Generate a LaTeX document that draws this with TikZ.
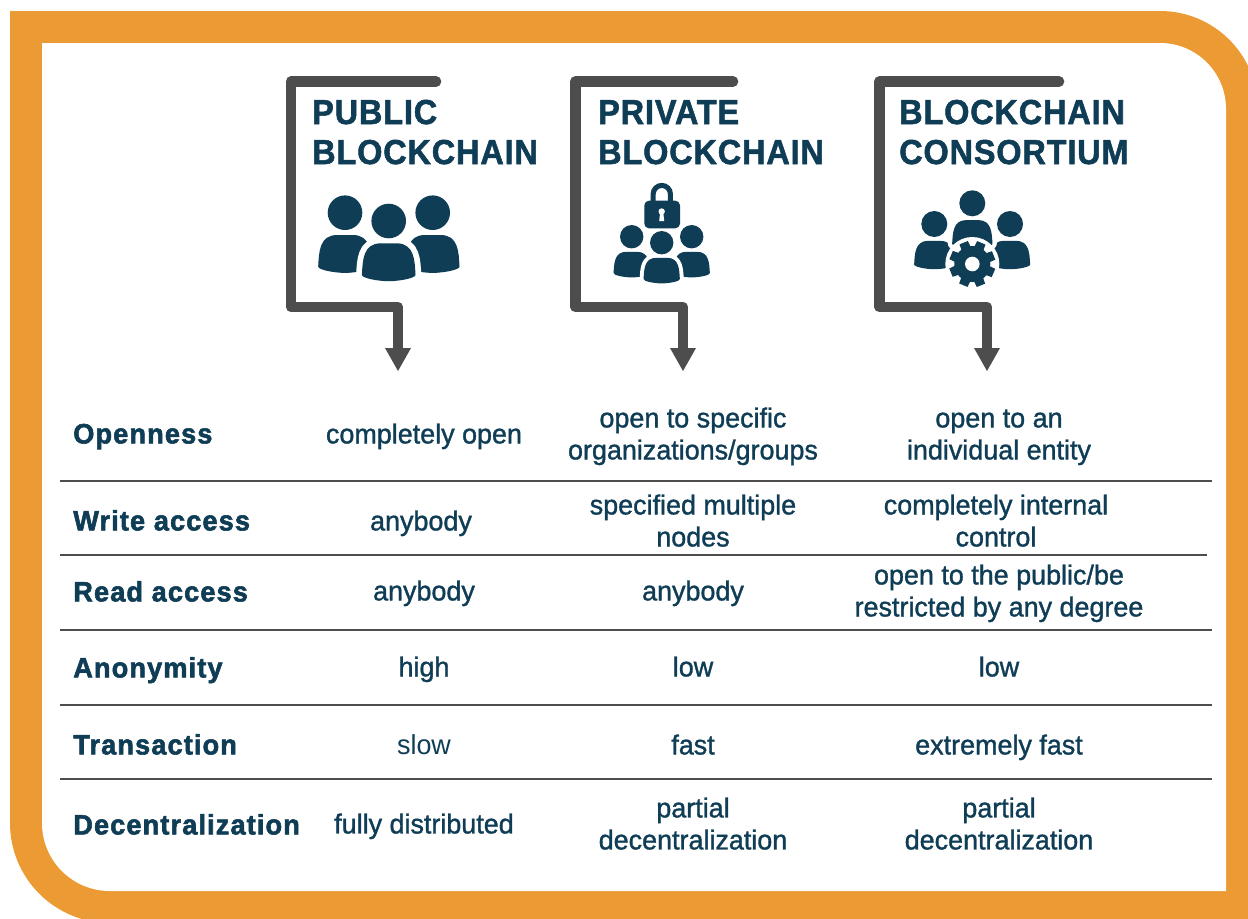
\documentclass[tikz,border=0pt]{standalone}
\usepackage{fontspec}
\setmainfont{Liberation Sans}
\newfontfamily\headfont[FakeBold=1.5,FakeStretch=0.935,LetterSpace=2.5]{Liberation Sans Bold}
\newfontfamily\labelfont[FakeBold=2,FakeStretch=0.97,LetterSpace=4]{Liberation Sans Bold}
\newfontfamily\bodyfont[FakeBold=1.2,FakeStretch=0.98]{Liberation Sans}
\newfontfamily\lightfont[FakeStretch=0.98]{Liberation Sans}
\definecolor{bandorange}{HTML}{EC9A33}
\definecolor{navy}{HTML}{0F3D56}
\definecolor{steel}{HTML}{4D4D4D}
\newcommand{\bodypath}{(-1.55,3.1) .. controls (-1.5,2.3) and (-1.5,1.29) .. (-0.45,1.29)
      -- (0.45,1.29) .. controls (1.5,1.29) and (1.5,2.3) .. (1.55,3.1)
      .. controls (1.6,3.3) and (0.6,3.48) .. (0,3.48)
      .. controls (-0.6,3.48) and (-1.6,3.3) .. (-1.55,3.1) -- cycle}
\newcommand{\personicon}[3]{%
  \begin{scope}[shift={(#1,#2)},scale=#3]
    \path[draw=white,line width=#3*0.5pt,line join=round] \bodypath;
    \fill[navy] \bodypath;
    \fill[navy] (0,0) circle[radius=1];
  \end{scope}}
\newcommand{\bracketarrow}[4]{%
  \coordinate (#1a) at (#3,81.5);
  \coordinate (#1b) at (#2,81.5);
  \coordinate (#1c) at (#2,307);
  \coordinate (#1d) at (#4,307);
  \coordinate (#1e) at (#4,350);
  \draw[steel,line width=8pt,line cap=round,line join=round] (#1a) -- (#1b) -- (#1c) -- (#1d) -- (#1e);
  \fill[steel] (#4-13,348) -- (#4+13,348) -- (#4,371) -- cycle;}
\tikzset{
  headtext/.style={anchor=west,inner sep=0pt,text=navy,align=left,font=\fontsize{26}{30}\selectfont\headfont},
  labeltext/.style={anchor=west,inner sep=0pt,text=navy,font=\fontsize{21}{24}\selectfont\labelfont},
  celltext/.style={anchor=center,inner sep=0pt,text=navy,align=center,font=\fontsize{20.6}{24}\selectfont\bodyfont},
  rowrule/.style={draw=steel,line width=0.9pt}
}
\begin{document}
\begin{tikzpicture}[x=0.75pt,y=-0.75pt]
\useasboundingbox (0,0) rectangle (1248,918);
\begin{scope}
\clip (0,0) rectangle (1248,918);
\fill[bandorange] (10,11) -- (1160,11) arc[start angle=-90,end angle=0,radius=98] -- (1258,923) -- (110,923) arc[start angle=90,end angle=180,radius=100] -- cycle;
\fill[white] (42,43) -- (1160,43) arc[start angle=-90,end angle=0,radius=66] -- (1226,891) -- (110,891) arc[start angle=90,end angle=180,radius=68] -- cycle;
\end{scope}
\bracketarrow{p}{291}{436}{398}
\bracketarrow{q}{575.5}{733}{683}
\bracketarrow{r}{879.5}{1059}{987}
\node[headtext] (h1) at (312,136) {\strut PUBLIC\\\strut BLOCKCHAIN};
\node[headtext] (h2) at (598,136) {\strut PRIVATE\\\strut BLOCKCHAIN};
\node[headtext] (h3) at (899,136) {\strut BLOCKCHAIN\\\strut CONSORTIUM};
% public icon
\personicon{345}{212.7}{17.3}
\personicon{432.7}{212.7}{17.3}
\personicon{388.7}{221}{17.3}
% private icon
\fill[navy,rounded corners=3.5pt] (644.3,200.7) rectangle (680,228.3);
\draw[navy,line width=3.8pt] (653.2,202) -- (653.2,194) arc[start angle=180,end angle=360,radius=8.6] -- (670.4,202);
\fill[white] (661.7,211.5) circle[radius=3.2];
\fill[white] (660.2,212) -- (663.2,212) -- (664.2,221) -- (659.2,221) -- cycle;
\personicon{631.7}{236.7}{11.7}
\personicon{691.7}{236.7}{11.7}
\personicon{661.7}{242.7}{11.7}
% consortium icon
\personicon{934.3}{224}{13}
\personicon{1010}{224}{13}
\personicon{972.3}{203.3}{13}
\fill[white] (972.3,264) circle[radius=27];
\foreach \a in {0,45,...,315}{
  \fill[navy,rotate around={\a+22:(972.3,264)}] (966.5,264) -- (978.1,264) -- (976.8,241) -- (967.8,241) -- cycle;
}
\fill[navy] (972.3,264) circle[radius=18];
\fill[white] (972.3,264) circle[radius=7.3];
% rules
\draw[rowrule] (60,481) -- (1212,481);
\draw[rowrule] (60,555) -- (1207,555);
\draw[rowrule] (60,630) -- (1212,630);
\draw[rowrule] (60,705) -- (1212,705);
\draw[rowrule] (60,779) -- (1212,779);
% labels
\node[labeltext] (l1) at (73,437) {\strut Openness};
\node[labeltext] (l2) at (73,524) {\strut Write access};
\node[labeltext] (l3) at (73,595) {\strut Read access};
\node[labeltext] (l4) at (73,671) {\strut Anonymity};
\node[labeltext] (l5) at (73,748) {\strut Transaction};
\node[labeltext] (l6) at (73,828) {\strut Decentralization};
% cells
\node[celltext] (a1) at (424,437) {\strut completely open};
\node[celltext] (b1) at (693,437) {\strut open to specific\\\strut organizations/groups};
\node[celltext] (c1) at (999,437) {\strut open to an\\\strut individual entity};
\node[celltext] (a2) at (421,524) {\strut anybody};
\node[celltext] (b2) at (693,524) {\strut specified multiple\\\strut nodes};
\node[celltext] (c2) at (996,524) {\strut completely internal\\\strut control};
\node[celltext] (a3) at (424,594) {\strut anybody};
\node[celltext] (b3) at (693,594) {\strut anybody};
\node[celltext] (c3) at (999,594) {\strut open to the public/be\\\strut restricted by any degree};
\node[celltext] (a4) at (424,670) {\strut high};
\node[celltext] (b4) at (693,670) {\strut low};
\node[celltext] (c4) at (999,670) {\strut low};
\node[celltext,font=\fontsize{20.6}{24}\selectfont\lightfont] (a5) at (424,748) {\strut slow};
\node[celltext] (b5) at (693,748) {\strut fast};
\node[celltext] (c5) at (999,748) {\strut extremely fast};
\node[celltext] (a6) at (424,827) {\strut fully distributed};
\node[celltext] (b6) at (693,827) {\strut partial\\\strut decentralization};
\node[celltext] (c6) at (999,827) {\strut partial\\\strut decentralization};
\end{tikzpicture}
\end{document}
